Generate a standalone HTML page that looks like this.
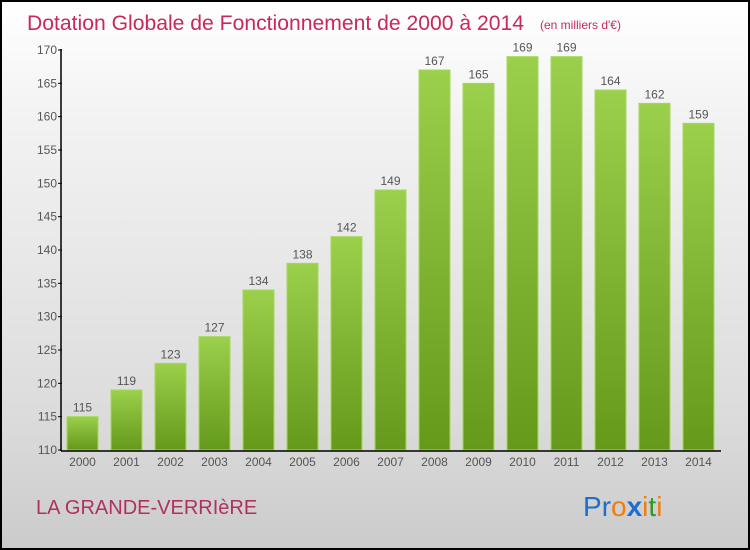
<!DOCTYPE html>
<html><head><meta charset="utf-8"><style>
html,body{margin:0;padding:0}
body{width:750px;height:550px;overflow:hidden;font-family:"Liberation Sans",sans-serif}
#frame{position:absolute;left:0;top:0;width:746px;height:546px;border:2px solid #000;background:linear-gradient(#fff,#f3f3f3 20%,#dcdcdc 75%,#cbcbcb)}
</style></head><body>
<div id="frame"></div>
<svg id="c" width="750" height="550" style="position:absolute;left:0;top:0">
<defs><linearGradient id="g" x1="0" y1="0" x2="0" y2="1"><stop offset="0" stop-color="#9bd04c"/><stop offset="1" stop-color="#64991a"/></linearGradient></defs>
<text x="27" y="30" font-size="21" fill="#c8285a" textLength="497" lengthAdjust="spacingAndGlyphs">Dotation Globale de Fonctionnement de 2000 à 2014</text>
<text x="540" y="29" font-size="12" fill="#c8285a">(en milliers d'€)</text>
<text x="36" y="514" font-size="20" fill="#b03060">LA GRANDE-VERRIèRE</text>
<text x="583" y="516" font-size="28"><tspan fill="#1a6fd0">P</tspan><tspan fill="#1a6fd0">r</tspan><tspan fill="#f07d10">o</tspan><tspan fill="#1a6fd0" font-weight="bold">x</tspan><tspan fill="#f07d10">i</tspan><tspan fill="#2a9a2a">t</tspan><tspan fill="#f07d10">i</tspan></text>
<g id="plot"></g>
</svg>
<script>
const years=["2000","2001","2002","2003","2004","2005","2006","2007","2008","2009","2010","2011","2012","2013","2014"];
const values=[115,119,123,127,134,138,142,149,167,165,169,169,164,162,159];
const yTicks=[110,115,120,125,130,135,140,145,150,155,160,165,170];
const NS="http://www.w3.org/2000/svg";
const g=document.getElementById('plot');
const y=v=>450-(v-110)*400/60;
const x=i=>67+i*44;
function mk(t,a,txt){const e=document.createElementNS(NS,t);for(const k in a)e.setAttribute(k,a[k]);if(txt!==undefined)e.textContent=txt;g.appendChild(e);return e;}
values.forEach((v,i)=>{
 const r=mk('rect',{x:x(i),y:y(v),width:31,height:450-y(v),fill:'url(#g)',stroke:'#a6d85a','stroke-width':1});
 
 
 const t=mk('text',{x:x(i)+15.5,y:y(v)-5,'font-size':12,'text-anchor':'middle',fill:'#555'},v);
 
 
 const l=mk('text',{x:x(i)+15.5,y:466,'font-size':12,'text-anchor':'middle',fill:'#555'},years[i]);
 
 
});
yTicks.forEach(v=>{
 mk('line',{x1:58,x2:62,y1:y(v),y2:y(v),stroke:'#000'});
 const t=mk('text',{x:57,y:y(v)+4,'font-size':12,'text-anchor':'end',fill:'#555'},v);
 
 
});
const ya=mk('line',{x1:61,x2:61,y1:49,y2:451,stroke:'#000','stroke-width':1.5});


const xa=mk('line',{x1:61,x2:721,y1:451,y2:451,stroke:'#000','stroke-width':1.5});


</script>
</body></html>
